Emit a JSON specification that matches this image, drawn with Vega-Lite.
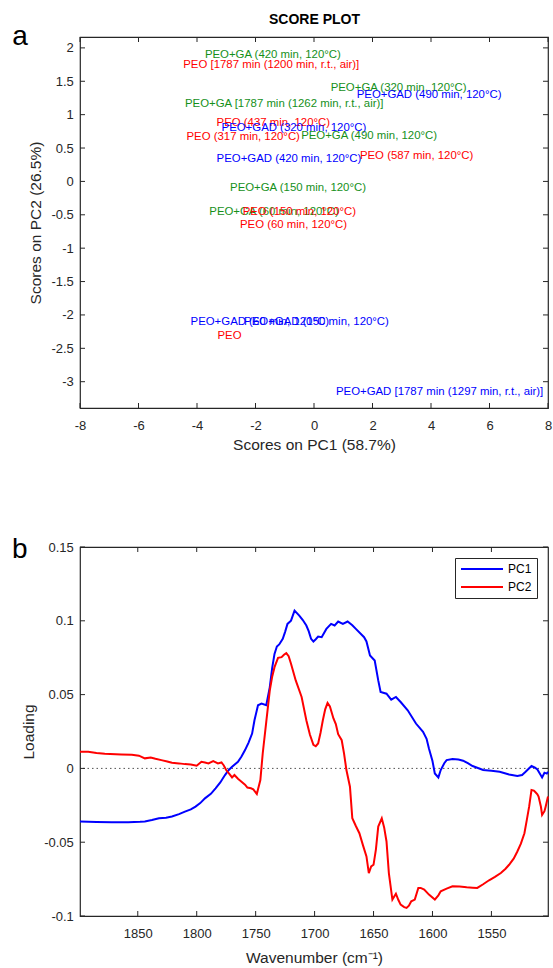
{
  "$schema": "https://vega.github.io/schema/vega-lite/v6.json",
  "background": "white",
  "padding": {"left": 11, "right": 4, "top": 11, "bottom": 2},
  "spacing": 81,
  "resolve": {"scale": {"color": "independent"}, "legend": {"color": "independent"}},
  "config": {
    "font": "Liberation Sans",
    "view": {"stroke": "#262626", "strokeWidth": 1.2},
    "locale": {"number": {"decimal": ".", "thousands": ",", "grouping": [3], "currency": ["$", ""], "minus": "-"}},
    "axis": {
      "grid": false,
      "domain": false,
      "ticks": false,
      "labelColor": "#262626",
      "labelFontSize": 13,
      "titleFontSize": 15.5,
      "titleFontWeight": "normal",
      "titleColor": "#262626",
      "labelFlush": false,
      "labelOverlap": false
    },
    "tick": {"thickness": 1, "opacity": 1, "color": "#262626"},
    "title": {"font": "Liberation Sans", "color": "black"}
  },
  "vconcat": [
    {
      "width": 468,
      "height": 371,
      "title": {"text": "a", "anchor": "start", "frame": "bounds", "fontSize": 28, "fontWeight": "normal", "dx": -16, "dy": 39, "offset": 0},
      "layer": [
        {
          "data": {
            "values": [
              {"x": -3.73, "y": 1.898, "label": "PEO+GA (420 min, 120°C)", "g": "PEO+GA"},
              {"x": -4.47, "y": 1.739, "label": "PEO [1787 min (1200 min, r.t., air)]", "g": "PEO"},
              {"x": 0.57, "y": 1.399, "label": "PEO+GA (320 min, 120°C)", "g": "PEO+GA"},
              {"x": 1.46, "y": 1.289, "label": "PEO+GAD (490 min, 120°C)", "g": "PEO+GAD"},
              {"x": -4.41, "y": 1.159, "label": "PEO+GA [1787 min (1262 min, r.t., air)]", "g": "PEO+GA"},
              {"x": -3.33, "y": 0.879, "label": "PEO (437 min, 120°C)", "g": "PEO"},
              {"x": -3.16, "y": 0.804, "label": "PEO+GAD (320 min, 120°C)", "g": "PEO+GAD"},
              {"x": -4.36, "y": 0.66, "label": "PEO (317 min, 120°C)", "g": "PEO"},
              {"x": -0.44, "y": 0.684, "label": "PEO+GA (490 min, 120°C)", "g": "PEO+GA"},
              {"x": 1.57, "y": 0.384, "label": "PEO (587 min, 120°C)", "g": "PEO"},
              {"x": -3.33, "y": 0.334, "label": "PEO+GAD (420 min, 120°C)", "g": "PEO+GAD"},
              {"x": -2.87, "y": -0.1, "label": "PEO+GA (150 min, 120°C)", "g": "PEO+GA"},
              {"x": -3.58, "y": -0.46, "label": "PEO+GA (60 min, 120°C)", "g": "PEO+GA"},
              {"x": -2.44, "y": -0.46, "label": "PEO (150 min, 120°C)", "g": "PEO"},
              {"x": -2.53, "y": -0.66, "label": "PEO (60 min, 120°C)", "g": "PEO"},
              {"x": -4.22, "y": -2.099, "label": "PEO+GAD (60 min, 120°C)", "g": "PEO+GAD"},
              {"x": -2.39, "y": -2.099, "label": "PEO+GAD (150 min, 120°C)", "g": "PEO+GAD"},
              {"x": -3.3, "y": -2.309, "label": "PEO", "g": "PEO"},
              {"x": 0.75, "y": -3.148, "label": "PEO+GAD [1787 min (1297 min, r.t., air)]", "g": "PEO+GAD"}
            ]
          },
          "mark": {"type": "text", "align": "left", "baseline": "middle", "fontSize": 11.4},
          "encoding": {
            "x": {"field": "x", "type": "quantitative",
              "scale": {"domain": [-8, 8], "nice": false, "zero": false},
              "axis": {"orient": "bottom", "values": [-8, -6, -4, -2, 0, 2, 4, 6, 8], "format": ".0f", "title": "Scores on PC1 (58.7%)", "labelPadding": 11, "titlePadding": 5}},
            "y": {"field": "y", "type": "quantitative",
              "scale": {"domain": [-3.394, 2.163], "nice": false, "zero": false},
              "axis": {"orient": "left", "values": [-3, -2.5, -2, -1.5, -1, -0.5, 0, 0.5, 1, 1.5, 2], "format": ".1~f", "title": "Scores on PC2 (26.5%)", "labelPadding": 6.7, "titlePadding": 7.6}},
            "text": {"field": "label"},
            "color": {"field": "g", "type": "nominal",
              "scale": {"domain": ["PEO", "PEO+GA", "PEO+GAD"], "range": ["#ff0000", "#15901a", "#0000ff"]},
              "legend": null}
          }
        },
        {
          "data": {"values": [{"t": -8}, {"t": -6}, {"t": -4}, {"t": -2}, {"t": 0}, {"t": 2}, {"t": 4}, {"t": 6}, {"t": 8}]},
          "mark": {"type": "tick", "orient": "vertical", "size": 5, "yOffset": -2.5},
          "encoding": {
            "x": {"field": "t", "type": "quantitative", "axis": null},
            "y": {"datum": -3.394, "type": "quantitative", "axis": null}
          }
        },
        {
          "data": {"values": [{"t": -8}, {"t": -6}, {"t": -4}, {"t": -2}, {"t": 0}, {"t": 2}, {"t": 4}, {"t": 6}, {"t": 8}]},
          "mark": {"type": "tick", "orient": "vertical", "size": 5, "yOffset": 2.5},
          "encoding": {
            "x": {"field": "t", "type": "quantitative",
              "axis": {"orient": "top", "labels": false, "ticks": false, "domain": false, "title": "SCORE PLOT", "titleFontWeight": "bold", "titleFontSize": 14, "titleColor": "black", "titlePadding": 11, "minExtent": 0, "maxExtent": 0}},
            "y": {"datum": 2.163, "type": "quantitative", "axis": null}
          }
        },
        {
          "data": {"values": [{"t": -3}, {"t": -2.5}, {"t": -2}, {"t": -1.5}, {"t": -1}, {"t": -0.5}, {"t": 0}, {"t": 0.5}, {"t": 1}, {"t": 1.5}, {"t": 2}]},
          "mark": {"type": "tick", "orient": "horizontal", "size": 5, "xOffset": 2.5},
          "encoding": {
            "y": {"field": "t", "type": "quantitative", "axis": null},
            "x": {"datum": -8, "type": "quantitative", "axis": null}
          }
        },
        {
          "data": {"values": [{"t": -3}, {"t": -2.5}, {"t": -2}, {"t": -1.5}, {"t": -1}, {"t": -0.5}, {"t": 0}, {"t": 0.5}, {"t": 1}, {"t": 1.5}, {"t": 2}]},
          "mark": {"type": "tick", "orient": "horizontal", "size": 5, "xOffset": -2.5},
          "encoding": {
            "y": {"field": "t", "type": "quantitative", "axis": null},
            "x": {"datum": 8, "type": "quantitative", "axis": null}
          }
        }
      ],
      "resolve": {"axis": {"x": "independent", "y": "independent"}}
    },
    {
      "width": 468,
      "height": 369,
      "title": {"text": "b", "anchor": "start", "frame": "bounds", "fontSize": 28, "fontWeight": "normal", "dx": -9, "dy": 23, "offset": 0},
      "layer": [
        {
          "data": {"values": [{"v": 0}]},
          "mark": {"type": "rule", "strokeDash": [1.5, 3], "strokeWidth": 0.8, "color": "#262626"},
          "encoding": {"y": {"field": "v", "type": "quantitative", "axis": null}}
        },
        {
          "data": {"name": "loadings"},
          "mark": {"type": "line", "strokeWidth": 2},
          "encoding": {
            "x": {"field": "w", "type": "quantitative",
              "scale": {"domain": [1502, 1899], "reverse": true, "nice": false, "zero": false},
              "axis": {"orient": "bottom", "values": [1850, 1800, 1750, 1700, 1650, 1600, 1550], "format": "d", "title": "Wavenumber (cm⁻¹)", "labelPadding": 11, "titlePadding": 10}},
            "y": {"field": "v", "type": "quantitative",
              "scale": {"domain": [-0.1, 0.15], "nice": false, "zero": false},
              "axis": {"orient": "left", "values": [-0.1, -0.05, 0, 0.05, 0.1, 0.15], "format": ".2~f", "title": "Loading", "labelPadding": 6.7, "titlePadding": 7.6}},
            "color": {"field": "s", "type": "nominal",
              "scale": {"domain": ["PC1", "PC2"], "range": ["#0000ff", "#ff0000"]},
              "legend": {"orient": "top-right", "offset": 10.6, "title": null, "symbolType": "M-4.2,0L4.2,0", "symbolSize": 100, "symbolStrokeWidth": 2, "symbolOffset": 16, "labelOffset": 20, "labelFontSize": 12, "labelColor": "black", "strokeColor": "#262626", "fillColor": "white", "padding": 5, "rowPadding": 6}}
          }
        },
        {
          "data": {"values": [{"t": 1850}, {"t": 1800}, {"t": 1750}, {"t": 1700}, {"t": 1650}, {"t": 1600}, {"t": 1550}]},
          "mark": {"type": "tick", "orient": "vertical", "size": 5, "yOffset": -2.5},
          "encoding": {
            "x": {"field": "t", "type": "quantitative", "axis": null},
            "y": {"datum": -0.1, "type": "quantitative", "axis": null}
          }
        },
        {
          "data": {"values": [{"t": 1850}, {"t": 1800}, {"t": 1750}, {"t": 1700}, {"t": 1650}, {"t": 1600}, {"t": 1550}]},
          "mark": {"type": "tick", "orient": "vertical", "size": 5, "yOffset": 2.5},
          "encoding": {
            "x": {"field": "t", "type": "quantitative", "axis": null},
            "y": {"datum": 0.15, "type": "quantitative", "axis": null}
          }
        },
        {
          "data": {"values": [{"t": -0.1}, {"t": -0.05}, {"t": 0}, {"t": 0.05}, {"t": 0.1}, {"t": 0.15}]},
          "mark": {"type": "tick", "orient": "horizontal", "size": 5, "xOffset": 2.5},
          "encoding": {
            "y": {"field": "t", "type": "quantitative", "axis": null},
            "x": {"datum": 1899, "type": "quantitative", "axis": null}
          }
        },
        {
          "data": {"values": [{"t": -0.1}, {"t": -0.05}, {"t": 0}, {"t": 0.05}, {"t": 0.1}, {"t": 0.15}]},
          "mark": {"type": "tick", "orient": "horizontal", "size": 5, "xOffset": -2.5},
          "encoding": {
            "y": {"field": "t", "type": "quantitative", "axis": null},
            "x": {"datum": 1502, "type": "quantitative", "axis": null}
          }
        }
      ],
      "resolve": {"axis": {"x": "independent", "y": "independent"}}
    }
  ],
  "datasets": {
    "loadings": [
      {"s": "PC1", "w": 1899, "v": -0.036}, {"s": "PC1", "w": 1885, "v": -0.0363}, {"s": "PC1", "w": 1872, "v": -0.0365}, {"s": "PC1", "w": 1858, "v": -0.0364},
      {"s": "PC1", "w": 1848, "v": -0.0362}, {"s": "PC1", "w": 1844, "v": -0.036}, {"s": "PC1", "w": 1838, "v": -0.035}, {"s": "PC1", "w": 1832, "v": -0.0338},
      {"s": "PC1", "w": 1826, "v": -0.0335}, {"s": "PC1", "w": 1821, "v": -0.0326}, {"s": "PC1", "w": 1815, "v": -0.031}, {"s": "PC1", "w": 1810, "v": -0.0293},
      {"s": "PC1", "w": 1805, "v": -0.0278}, {"s": "PC1", "w": 1801, "v": -0.0259}, {"s": "PC1", "w": 1797, "v": -0.0235}, {"s": "PC1", "w": 1793, "v": -0.0203},
      {"s": "PC1", "w": 1788, "v": -0.0172}, {"s": "PC1", "w": 1784, "v": -0.0135}, {"s": "PC1", "w": 1780, "v": -0.0095}, {"s": "PC1", "w": 1776, "v": -0.0045},
      {"s": "PC1", "w": 1773, "v": -0.0012}, {"s": "PC1", "w": 1770, "v": 0.0011}, {"s": "PC1", "w": 1765, "v": 0.0045}, {"s": "PC1", "w": 1762, "v": 0.008},
      {"s": "PC1", "w": 1759, "v": 0.0124}, {"s": "PC1", "w": 1756, "v": 0.0175}, {"s": "PC1", "w": 1753, "v": 0.0236}, {"s": "PC1", "w": 1751, "v": 0.0326},
      {"s": "PC1", "w": 1748, "v": 0.0428}, {"s": "PC1", "w": 1745, "v": 0.0439}, {"s": "PC1", "w": 1741, "v": 0.0428}, {"s": "PC1", "w": 1738, "v": 0.0551},
      {"s": "PC1", "w": 1736, "v": 0.068}, {"s": "PC1", "w": 1734, "v": 0.0776}, {"s": "PC1", "w": 1732, "v": 0.0826}, {"s": "PC1", "w": 1730, "v": 0.084},
      {"s": "PC1", "w": 1727, "v": 0.0878}, {"s": "PC1", "w": 1725, "v": 0.0925}, {"s": "PC1", "w": 1723, "v": 0.0979}, {"s": "PC1", "w": 1720, "v": 0.1001},
      {"s": "PC1", "w": 1717, "v": 0.1069}, {"s": "PC1", "w": 1713, "v": 0.1035}, {"s": "PC1", "w": 1710, "v": 0.1005}, {"s": "PC1", "w": 1707, "v": 0.0968},
      {"s": "PC1", "w": 1705, "v": 0.093}, {"s": "PC1", "w": 1703, "v": 0.0878}, {"s": "PC1", "w": 1701, "v": 0.086}, {"s": "PC1", "w": 1699, "v": 0.0875},
      {"s": "PC1", "w": 1697, "v": 0.0893}, {"s": "PC1", "w": 1694, "v": 0.0889}, {"s": "PC1", "w": 1690, "v": 0.0945}, {"s": "PC1", "w": 1686, "v": 0.0979},
      {"s": "PC1", "w": 1683, "v": 0.0968}, {"s": "PC1", "w": 1680, "v": 0.0995}, {"s": "PC1", "w": 1676, "v": 0.0979}, {"s": "PC1", "w": 1672, "v": 0.0995},
      {"s": "PC1", "w": 1668, "v": 0.097}, {"s": "PC1", "w": 1665, "v": 0.0945}, {"s": "PC1", "w": 1658, "v": 0.0889}, {"s": "PC1", "w": 1656, "v": 0.086},
      {"s": "PC1", "w": 1653, "v": 0.0765}, {"s": "PC1", "w": 1649, "v": 0.0731}, {"s": "PC1", "w": 1646, "v": 0.0596}, {"s": "PC1", "w": 1644, "v": 0.0518},
      {"s": "PC1", "w": 1639, "v": 0.0506}, {"s": "PC1", "w": 1635, "v": 0.0466}, {"s": "PC1", "w": 1631, "v": 0.0484}, {"s": "PC1", "w": 1627, "v": 0.045},
      {"s": "PC1", "w": 1621, "v": 0.0394}, {"s": "PC1", "w": 1614, "v": 0.0304}, {"s": "PC1", "w": 1608, "v": 0.0248}, {"s": "PC1", "w": 1605, "v": 0.02},
      {"s": "PC1", "w": 1603, "v": 0.0135}, {"s": "PC1", "w": 1600, "v": 0.005}, {"s": "PC1", "w": 1598, "v": -0.0034}, {"s": "PC1", "w": 1595, "v": -0.0061},
      {"s": "PC1", "w": 1593, "v": -0.0011}, {"s": "PC1", "w": 1590, "v": 0.0035}, {"s": "PC1", "w": 1588, "v": 0.0056}, {"s": "PC1", "w": 1583, "v": 0.0063},
      {"s": "PC1", "w": 1578, "v": 0.006}, {"s": "PC1", "w": 1574, "v": 0.0052}, {"s": "PC1", "w": 1570, "v": 0.0035}, {"s": "PC1", "w": 1566, "v": 0.0016},
      {"s": "PC1", "w": 1557, "v": -0.0011}, {"s": "PC1", "w": 1550, "v": -0.0016}, {"s": "PC1", "w": 1543, "v": -0.0023}, {"s": "PC1", "w": 1535, "v": -0.0041},
      {"s": "PC1", "w": 1528, "v": -0.0052}, {"s": "PC1", "w": 1524, "v": -0.0045}, {"s": "PC1", "w": 1521, "v": -0.0023}, {"s": "PC1", "w": 1516, "v": 0.0016},
      {"s": "PC1", "w": 1513, "v": 0.0005}, {"s": "PC1", "w": 1511, "v": -0.0007}, {"s": "PC1", "w": 1507, "v": -0.0061}, {"s": "PC1", "w": 1505, "v": -0.0029},
      {"s": "PC1", "w": 1503, "v": -0.0035}, {"s": "PC1", "w": 1502, "v": -0.0023},
      {"s": "PC2", "w": 1899, "v": 0.0113}, {"s": "PC2", "w": 1892, "v": 0.0113}, {"s": "PC2", "w": 1885, "v": 0.0105}, {"s": "PC2", "w": 1878, "v": 0.0099},
      {"s": "PC2", "w": 1864, "v": 0.0095}, {"s": "PC2", "w": 1855, "v": 0.0092}, {"s": "PC2", "w": 1849, "v": 0.0086}, {"s": "PC2", "w": 1844, "v": 0.0068},
      {"s": "PC2", "w": 1839, "v": 0.0074}, {"s": "PC2", "w": 1835, "v": 0.0065}, {"s": "PC2", "w": 1830, "v": 0.0056}, {"s": "PC2", "w": 1825, "v": 0.0047},
      {"s": "PC2", "w": 1821, "v": 0.0038}, {"s": "PC2", "w": 1815, "v": 0.0034}, {"s": "PC2", "w": 1810, "v": 0.0029}, {"s": "PC2", "w": 1805, "v": 0.0027},
      {"s": "PC2", "w": 1800, "v": 0.0018}, {"s": "PC2", "w": 1796, "v": 0.0045}, {"s": "PC2", "w": 1793, "v": 0.004}, {"s": "PC2", "w": 1790, "v": 0.0034},
      {"s": "PC2", "w": 1786, "v": 0.005}, {"s": "PC2", "w": 1782, "v": 0.0034}, {"s": "PC2", "w": 1779, "v": 0.004}, {"s": "PC2", "w": 1777, "v": 0.002},
      {"s": "PC2", "w": 1775, "v": -0.0011}, {"s": "PC2", "w": 1772, "v": -0.004}, {"s": "PC2", "w": 1770, "v": -0.0061}, {"s": "PC2", "w": 1768, "v": -0.0045},
      {"s": "PC2", "w": 1765, "v": -0.007}, {"s": "PC2", "w": 1762, "v": -0.009}, {"s": "PC2", "w": 1759, "v": -0.011}, {"s": "PC2", "w": 1757, "v": -0.013},
      {"s": "PC2", "w": 1754, "v": -0.0135}, {"s": "PC2", "w": 1752, "v": -0.0142}, {"s": "PC2", "w": 1749, "v": -0.0173}, {"s": "PC2", "w": 1746, "v": -0.0079},
      {"s": "PC2", "w": 1744, "v": 0.0101}, {"s": "PC2", "w": 1741, "v": 0.0315}, {"s": "PC2", "w": 1738, "v": 0.0529}, {"s": "PC2", "w": 1736, "v": 0.062},
      {"s": "PC2", "w": 1734, "v": 0.0686}, {"s": "PC2", "w": 1731, "v": 0.0749}, {"s": "PC2", "w": 1728, "v": 0.0754}, {"s": "PC2", "w": 1726, "v": 0.077},
      {"s": "PC2", "w": 1724, "v": 0.0781}, {"s": "PC2", "w": 1722, "v": 0.076}, {"s": "PC2", "w": 1720, "v": 0.0709}, {"s": "PC2", "w": 1716, "v": 0.0596},
      {"s": "PC2", "w": 1711, "v": 0.0484}, {"s": "PC2", "w": 1707, "v": 0.0326}, {"s": "PC2", "w": 1704, "v": 0.023}, {"s": "PC2", "w": 1701, "v": 0.016},
      {"s": "PC2", "w": 1699, "v": 0.015}, {"s": "PC2", "w": 1697, "v": 0.0169}, {"s": "PC2", "w": 1695, "v": 0.024}, {"s": "PC2", "w": 1693, "v": 0.0326},
      {"s": "PC2", "w": 1691, "v": 0.04}, {"s": "PC2", "w": 1689, "v": 0.0443}, {"s": "PC2", "w": 1687, "v": 0.042}, {"s": "PC2", "w": 1684, "v": 0.0338},
      {"s": "PC2", "w": 1682, "v": 0.03}, {"s": "PC2", "w": 1680, "v": 0.0232}, {"s": "PC2", "w": 1677, "v": 0.0191}, {"s": "PC2", "w": 1675, "v": 0.01},
      {"s": "PC2", "w": 1673, "v": -0.0011}, {"s": "PC2", "w": 1670, "v": -0.0124}, {"s": "PC2", "w": 1668, "v": -0.0338}, {"s": "PC2", "w": 1665, "v": -0.039},
      {"s": "PC2", "w": 1662, "v": -0.0439}, {"s": "PC2", "w": 1659, "v": -0.052}, {"s": "PC2", "w": 1656, "v": -0.0596}, {"s": "PC2", "w": 1654, "v": -0.0709},
      {"s": "PC2", "w": 1652, "v": -0.0664}, {"s": "PC2", "w": 1650, "v": -0.0653}, {"s": "PC2", "w": 1648, "v": -0.055}, {"s": "PC2", "w": 1646, "v": -0.0394},
      {"s": "PC2", "w": 1643, "v": -0.0338}, {"s": "PC2", "w": 1641, "v": -0.04}, {"s": "PC2", "w": 1639, "v": -0.0495}, {"s": "PC2", "w": 1637, "v": -0.0709},
      {"s": "PC2", "w": 1634, "v": -0.0889}, {"s": "PC2", "w": 1631, "v": -0.0849}, {"s": "PC2", "w": 1629, "v": -0.089}, {"s": "PC2", "w": 1627, "v": -0.0923},
      {"s": "PC2", "w": 1624, "v": -0.094}, {"s": "PC2", "w": 1622, "v": -0.0945}, {"s": "PC2", "w": 1620, "v": -0.093}, {"s": "PC2", "w": 1618, "v": -0.09},
      {"s": "PC2", "w": 1615, "v": -0.0889}, {"s": "PC2", "w": 1612, "v": -0.081}, {"s": "PC2", "w": 1610, "v": -0.081}, {"s": "PC2", "w": 1607, "v": -0.0821},
      {"s": "PC2", "w": 1603, "v": -0.0855}, {"s": "PC2", "w": 1598, "v": -0.0889}, {"s": "PC2", "w": 1595, "v": -0.086}, {"s": "PC2", "w": 1593, "v": -0.0833},
      {"s": "PC2", "w": 1588, "v": -0.0815}, {"s": "PC2", "w": 1583, "v": -0.0799}, {"s": "PC2", "w": 1577, "v": -0.08}, {"s": "PC2", "w": 1571, "v": -0.0806},
      {"s": "PC2", "w": 1566, "v": -0.0808}, {"s": "PC2", "w": 1562, "v": -0.081}, {"s": "PC2", "w": 1557, "v": -0.0785}, {"s": "PC2", "w": 1552, "v": -0.0758},
      {"s": "PC2", "w": 1547, "v": -0.0735}, {"s": "PC2", "w": 1542, "v": -0.0709}, {"s": "PC2", "w": 1538, "v": -0.068}, {"s": "PC2", "w": 1535, "v": -0.0653},
      {"s": "PC2", "w": 1531, "v": -0.061}, {"s": "PC2", "w": 1528, "v": -0.0563}, {"s": "PC2", "w": 1525, "v": -0.051}, {"s": "PC2", "w": 1522, "v": -0.0439},
      {"s": "PC2", "w": 1520, "v": -0.035}, {"s": "PC2", "w": 1518, "v": -0.0259}, {"s": "PC2", "w": 1516, "v": -0.0146}, {"s": "PC2", "w": 1514, "v": -0.015},
      {"s": "PC2", "w": 1513, "v": -0.0158}, {"s": "PC2", "w": 1511, "v": -0.0175}, {"s": "PC2", "w": 1510, "v": -0.0191}, {"s": "PC2", "w": 1508, "v": -0.026},
      {"s": "PC2", "w": 1507, "v": -0.0315}, {"s": "PC2", "w": 1505, "v": -0.029}, {"s": "PC2", "w": 1504, "v": -0.0259}, {"s": "PC2", "w": 1502, "v": -0.0191}
    ]
  }
}
